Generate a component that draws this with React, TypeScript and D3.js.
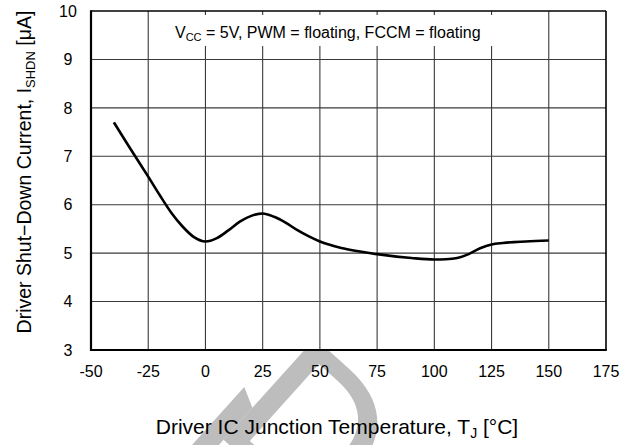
import React from "react";
import * as d3 from "d3";

const temps = [-40, -35, -30, -25, -20, -15, -10, -5, 0, 5, 10, 15, 20, 25, 30, 35, 40, 45, 50, 60, 75, 90, 100, 105, 110, 115, 120, 125, 130, 140, 150];
const current = [7.7, 7.32, 6.95, 6.58, 6.2, 5.84, 5.55, 5.33, 5.24, 5.31, 5.47, 5.65, 5.77, 5.82, 5.75, 5.63, 5.48, 5.35, 5.24, 5.1, 4.98, 4.9, 4.87, 4.875, 4.9, 4.98, 5.1, 5.18, 5.21, 5.24, 5.26];
const xTicks = [-50, -25, 0, 25, 50, 75, 100, 125, 150, 175];
const yTicks = [3, 4, 5, 6, 7, 8, 9, 10];

const W = 633;
const H = 445;
const FONT = "'Liberation Sans', Arial, Helvetica, sans-serif";

export default function App() {
  const x = d3.scaleLinear().domain([-50, 175]).range([91, 606]);
  const y = d3.scaleLinear().domain([3, 10]).range([350, 11]);
  const data = temps.map((t, i) => [t, current[i]] as [number, number]);
  const line = d3
    .line<[number, number]>()
    .x((d) => x(d[0]))
    .y((d) => y(d[1]))
    .curve(d3.curveMonotoneX);

  const [x0, x1] = x.range();
  const [y0, y1] = y.range();
  const wmSize = 196;

  return (
    <div style={{ position: "fixed", left: 0, top: 0 }}>
      <svg width={W} height={H} style={{ display: "block", background: "#fff" }} fontFamily={FONT}>
        <rect x={0} y={0} width={W} height={H} fill="#fff" />
        {/* watermark */}
        <g transform="translate(231,445) rotate(42)" fill="#bdbdbd">
          <text x={-0.123 * wmSize} y={0} fontSize={wmSize} fontFamily={FONT} stroke="#bdbdbd" strokeWidth={2}>
            D
          </text>
          <polygon points="-29,40 -9,40 -9,-42 -29,-52" />
        </g>
        {/* plot background */}
        <rect x={x0} y={y1} width={x1 - x0} height={y0 - y1} fill="#fff" />
        {/* grid */}
        {xTicks.slice(1, -1).map((t) => (
          <line key={"gx" + t} x1={x(t)} x2={x(t)} y1={y1} y2={y0} stroke="#3a3a3a" strokeWidth={1.1} />
        ))}
        {yTicks.slice(1, -1).map((t) => (
          <line key={"gy" + t} x1={x0} x2={x1} y1={y(t)} y2={y(t)} stroke="#3a3a3a" strokeWidth={1.1} />
        ))}
        {/* annotation */}
        <rect x={173} y={15} width={322} height={31} fill="#fff" />
        <text x={175} y={37.5} fontSize={16} fill="#000">
          V<tspan fontSize={11} dy={3}>CC</tspan>
          <tspan dy={-3}> = 5V, PWM = floating, FCCM = floating</tspan>
        </text>
        {/* curve */}
        <path d={line(data) || ""} fill="none" stroke="#000" strokeWidth={2.6} strokeLinejoin="round" />
        {/* frame */}
        <line x1={x0} x2={x1} y1={y1} y2={y1} stroke="#000" strokeWidth={1.6} />
        <line x1={x1} x2={x1} y1={y1} y2={y0} stroke="#000" strokeWidth={1.6} />
        <line x1={x0} x2={x0} y1={y1 - 0.8} y2={y0 + 1} stroke="#000" strokeWidth={2.2} />
        <line x1={x0 - 1} x2={x1 + 0.8} y1={y0} y2={y0} stroke="#000" strokeWidth={2.2} />
        {/* y tick labels */}
        {yTicks.map((t) => (
          <text key={"yl" + t} x={68} y={y(t) + 5.7} fontSize={16} textAnchor="middle" fill="#000">
            {t}
          </text>
        ))}
        {/* x tick labels */}
        {xTicks.map((t) => (
          <text key={"xl" + t} x={x(t)} y={377} fontSize={16} textAnchor="middle" fill="#000">
            {t}
          </text>
        ))}
        {/* x title */}
        <text x={337} y={434} fontSize={21} textAnchor="middle" fill="#000">
          Driver IC Junction Temperature, T<tspan fontSize={14} dy={4}>J</tspan>
          <tspan dy={-4}> [°C]</tspan>
        </text>
        {/* y title */}
        <text transform="translate(31,172) rotate(-90)" fontSize={19.5} textAnchor="middle" fill="#000">
          Driver Shut−Down Current, I<tspan fontSize={13} dy={4}>SHDN</tspan>
          <tspan dy={-4}> [μA]</tspan>
        </text>
      </svg>
    </div>
  );
}
